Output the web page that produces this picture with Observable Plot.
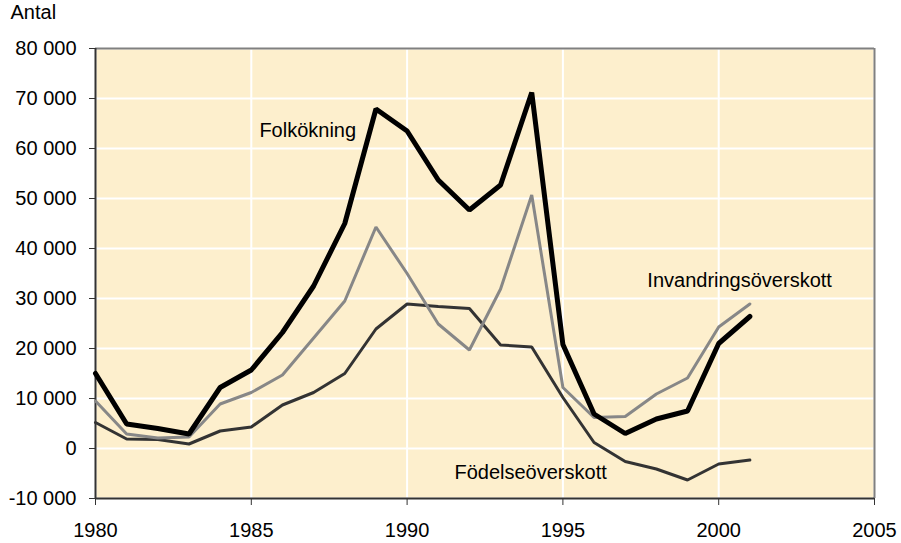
<!DOCTYPE html>
<html>
<head>
<meta charset="utf-8">
<script src="https://cdn.jsdelivr.net/npm/d3@7"></script>
<script src="https://cdn.jsdelivr.net/npm/@observablehq/plot@0.6"></script>
<style>
  html, body { margin: 0; padding: 0; background: #ffffff; }
  #chart svg { display: block; }
</style>
</head>
<body>
<div id="chart"></div>
<script>
const years = [1980,1981,1982,1983,1984,1985,1986,1987,1988,1989,1990,1991,1992,1993,1994,1995,1996,1997,1998,1999,2000,2001];
const folkokning = [15000,4900,4000,2900,12200,15700,23200,32500,45000,67900,63500,53700,47700,52700,71200,20800,6900,3000,5900,7500,21000,26400];
const invandring = [9500,2900,2100,2300,8900,11200,14700,22100,29500,44300,35000,24900,19700,31900,50700,12200,6200,6400,10900,14100,24300,28900];
const fodelse = [5200,1900,1800,900,3500,4300,8700,11200,15000,23900,28900,28400,28000,20700,20300,10200,1200,-2600,-4100,-6300,-3100,-2300];

const seriesNames = ["Folkökning", "Invandringsöverskott", "Födelseöverskott"];
const labelYears = [1985.26, 1997.71, 1991.52];
const labelValues = [63600, 33600, -4900];

const xTicks = [1980, 1985, 1990, 1995, 2000, 2005];
const yTicks = [-10000, 0, 10000, 20000, 30000, 40000, 50000, 60000, 70000, 80000];

const fmt = d => (d < 0 ? "-" : "") + d3.format(",")(Math.abs(d)).replace(/,/g, " ");

const rows = (vals, name) => years.map((y, i) => ({year: y, value: vals[i], series: name}));
const dF = rows(folkokning, seriesNames[0]);
const dI = rows(invandring, seriesNames[1]);
const dB = rows(fodelse, seriesNames[2]);
const labels = seriesNames.map((n, i) => ({name: n, year: labelYears[i], value: labelValues[i]}));

const chart = Plot.plot({
  width: 901,
  height: 543,
  marginLeft: 95,
  marginRight: 27,
  marginTop: 48,
  marginBottom: 45,
  style: {fontFamily: "'Liberation Sans', Arial, sans-serif", fontSize: "20px", color: "#000", background: "#ffffff"},
  x: {domain: [1980, 2005]},
  y: {domain: [-10000, 80000]},
  marks: [
    Plot.frame({fill: "#FDEFCD", stroke: null}),
    Plot.gridY(yTicks, {stroke: "#ffffff", strokeOpacity: 1, strokeWidth: 2}),
    Plot.gridX(xTicks, {stroke: "#ffffff", strokeOpacity: 1, strokeWidth: 2}),
    Plot.ruleY([80000], {stroke: "#808080", strokeWidth: 2}),
    Plot.ruleX([2005], {stroke: "#808080", strokeWidth: 2}),
    Plot.axisY(yTicks, {tickFormat: fmt, tickSize: 6, tickPadding: 13, stroke: "#333", fill: "#000", fontSize: 20, label: null}),
    Plot.axisX(xTicks, {tickFormat: d => String(d), tickSize: 7, tickPadding: 17, stroke: "#333", fill: "#000", fontSize: 20, label: null}),
    Plot.ruleX([1980], {stroke: "#333", strokeWidth: 2}),
    Plot.ruleY([-10000], {stroke: "#333", strokeWidth: 2}),
    Plot.line(dB, {x: "year", y: "value", stroke: "#333333", strokeWidth: 3, strokeLinejoin: "miter"}),
    Plot.line(dI, {x: "year", y: "value", stroke: "#878787", strokeWidth: 3, strokeLinejoin: "miter"}),
    Plot.line(dF, {x: "year", y: "value", stroke: "#000000", strokeWidth: 5, strokeLinejoin: "miter"}),
    Plot.text(labels, {x: "year", y: "value", text: "name", textAnchor: "start", lineAnchor: "middle", fontSize: 20, fill: "#000"}),
    Plot.text(["Antal"], {frameAnchor: "top-left", textAnchor: "start", lineAnchor: "middle", dx: -85, dy: -36, fontSize: 20, fill: "#000"})
  ]
});
document.getElementById("chart").appendChild(chart);
</script>
</body>
</html>
